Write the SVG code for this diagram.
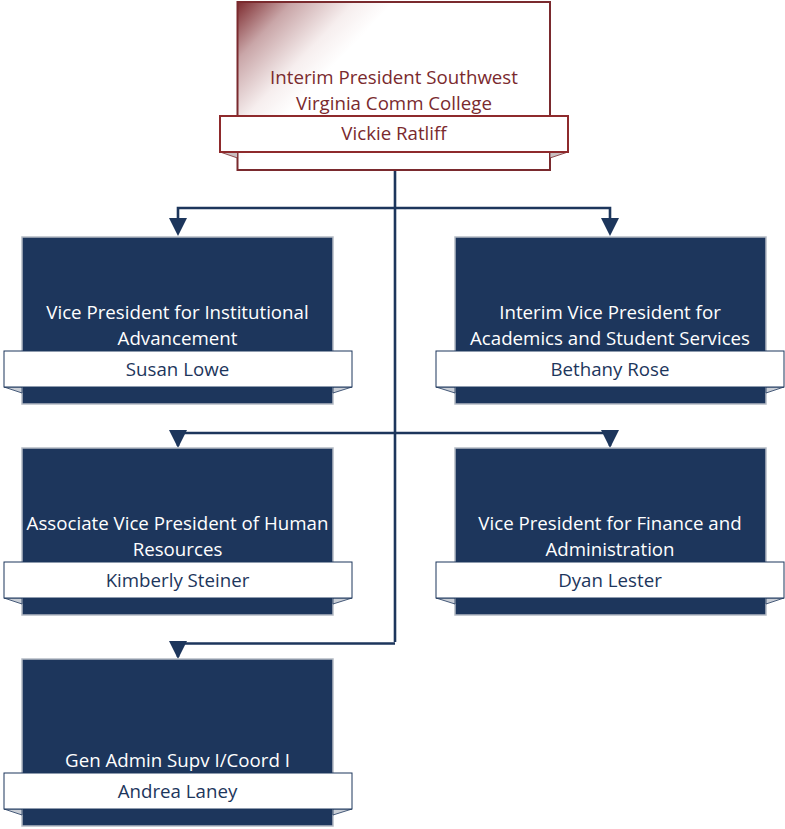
<svg xmlns="http://www.w3.org/2000/svg" width="785" height="829" viewBox="0 0 785 829">
<defs>
<linearGradient id="topg" gradientUnits="userSpaceOnUse" x1="238" y1="2" x2="320" y2="80">
<stop offset="0" stop-color="#7e2c30"/>
<stop offset="0.35" stop-color="#c9a6a8"/>
<stop offset="0.75" stop-color="#f6eeee"/>
<stop offset="1" stop-color="#ffffff"/>
</linearGradient>
<style>
.box{fill:#1d365c;stroke:#b4bac4;stroke-width:1.5}
.band{fill:#ffffff;stroke:#1d365c;stroke-width:1}
.fold{fill:#c9ced6;stroke:#1d365c;stroke-width:0.8}
.t{font-family:"Open Sans","Liberation Sans",sans-serif;font-size:18.7px;text-anchor:middle}
.w{fill:#ffffff}
.n{fill:#1d365c}
.r{fill:#7a2a2e}
.conn{fill:none;stroke:#1d365c;stroke-width:2.6}
.ah{fill:#1d365c}
</style>
</defs>
<g id="connectors">
<path class="conn" d="M395,170 V642"/>
<path class="conn" d="M178,222 V208 H610 V222"/>
<path class="conn" d="M178,446 V433 H610 V446"/>
<path class="conn" d="M178,657 V643.5 H395"/>
<path class="ah" d="M169,218 H187 L178,236 Z"/>
<path class="ah" d="M601,218 H619 L610,236 Z"/>
<path class="ah" d="M169,430 H187 L178,448 Z"/>
<path class="ah" d="M601,430 H619 L610,448 Z"/>
<path class="ah" d="M169,641 H187 L178,659 Z"/>
</g>
<g id="n0">
<rect x="237.5" y="2" width="312.5" height="168" fill="url(#topg)" stroke="#7a2a2e" stroke-width="2"/>
<path d="M220,152 L237.5,158 L237.5,152 Z" fill="#c9bfc0" stroke="#7a2a2e" stroke-width="0.8"/>
<path d="M568,152 L550,158 L550,152 Z" fill="#c9bfc0" stroke="#7a2a2e" stroke-width="0.8"/>
<rect x="220" y="116" width="348" height="36" fill="#ffffff" stroke="#8e2a2c" stroke-width="2"/>
<text class="t r" x="394" y="84">Interim President Southwest</text>
<text class="t r" x="394" y="110">Virginia Comm College</text>
<text class="t r" x="394" y="140">Vickie Ratliff</text>
</g>
<g id="n1">
<rect class="box" x="22" y="237" width="311" height="167"/>
<path class="fold" d="M4,387 L22,393 L22,387 Z"/>
<path class="fold" d="M352,387 L333,393 L333,387 Z"/>
<rect class="band" x="4" y="351" width="348" height="36"/>
<text class="t w" x="177.5" y="319">Vice President for Institutional</text>
<text class="t w" x="177.5" y="345">Advancement</text>
<text class="t n" x="177.5" y="376">Susan Lowe</text>
</g>
<g id="n2">
<rect class="box" x="455" y="237" width="311" height="167"/>
<path class="fold" d="M436,387 L455,393 L455,387 Z"/>
<path class="fold" d="M784,387 L766,393 L766,387 Z"/>
<rect class="band" x="436" y="351" width="348" height="36"/>
<text class="t w" x="610" y="319">Interim Vice President for</text>
<text class="t w" x="610" y="345">Academics and Student Services</text>
<text class="t n" x="610" y="376">Bethany Rose</text>
</g>
<g id="n3">
<rect class="box" x="22" y="448" width="311" height="167"/>
<path class="fold" d="M4,598 L22,604 L22,598 Z"/>
<path class="fold" d="M352,598 L333,604 L333,598 Z"/>
<rect class="band" x="4" y="562" width="348" height="36"/>
<text class="t w" x="177.5" y="530">Associate Vice President of Human</text>
<text class="t w" x="177.5" y="556">Resources</text>
<text class="t n" x="177.5" y="587">Kimberly Steiner</text>
</g>
<g id="n4">
<rect class="box" x="455" y="448" width="311" height="167"/>
<path class="fold" d="M436,598 L455,604 L455,598 Z"/>
<path class="fold" d="M784,598 L766,604 L766,598 Z"/>
<rect class="band" x="436" y="562" width="348" height="36"/>
<text class="t w" x="610" y="530">Vice President for Finance and</text>
<text class="t w" x="610" y="556">Administration</text>
<text class="t n" x="610" y="587">Dyan Lester</text>
</g>
<g id="n5">
<rect class="box" x="22" y="659" width="311" height="167"/>
<path class="fold" d="M4,809 L22,815 L22,809 Z"/>
<path class="fold" d="M352,809 L333,815 L333,809 Z"/>
<rect class="band" x="4" y="773" width="348" height="36"/>
<text class="t w" x="177.5" y="767">Gen Admin Supv I/Coord I</text>
<text class="t n" x="177.5" y="798">Andrea Laney</text>
</g>
</svg>
